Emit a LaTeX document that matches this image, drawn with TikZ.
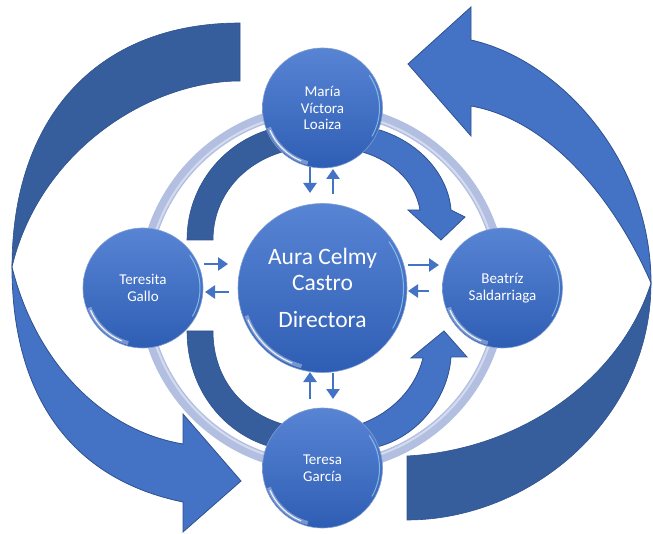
\documentclass[tikz,border=0pt]{standalone}
\usepackage{fontspec}
\setmainfont{Carlito}
\usetikzlibrary{arrows.meta}
\definecolor{dkblue}{RGB}{54,93,156}
\definecolor{mdblue}{RGB}{68,114,196}
\definecolor{olblue}{RGB}{47,82,143}
\definecolor{ringc}{RGB}{178,191,225}
\definecolor{balltop}{RGB}{88,132,212}
\definecolor{ballmid}{RGB}{64,110,196}
\definecolor{ballbot}{RGB}{46,94,180}
\newcommand\glossy[2]{%
  \draw[white, opacity=.35, line width=4pt] ([shift={(160:#2)}]#1.center) arc[start angle=160, end angle=105, radius=#2];
  \draw[white, opacity=.85, line width=1.2pt] ([shift={(157:#2)}]#1.center) arc[start angle=157, end angle=112, radius=#2];
  \draw[white!70!cyan, opacity=.6, line width=1pt] ([shift={(30:#2)}]#1.center) arc[start angle=30, end angle=-35, radius=#2];
}
\begin{document}
\begin{tikzpicture}[x=1pt,y=-1pt,
  ball/.style={circle, inner sep=0pt, minimum size=#1, top color=balltop, middle color=ballmid, bottom color=ballbot, text=white, align=center, draw=ballbot!60!white, line width=0.6pt},
  smallball/.style={ball=120, font=\fontsize{15}{16.8}\selectfont},
  bigball/.style={ball=169, font=\fontsize{23.5}{26}\selectfont},
  dkshape/.style={fill=dkblue, draw=olblue, line width=0.6pt},
  mdshape/.style={fill=mdblue, draw=olblue, line width=0.8pt},
  link/.style={draw=mdblue, line width=2.4pt, -{Triangle[length=10pt,width=13pt]}},
]
\useasboundingbox (0,0) rectangle (653,534);
\coordinate (C) at (322.5,288);
% big outer arrows
\path[dkshape] (240,23) .. controls (95,23) and (12,120) .. (12,267) .. controls (40,150) and (150,81) .. (240,81) -- cycle;
\path[mdshape] (12,267) .. controls (12,400) and (75,480) .. (183,502) -- (183,532) -- (241,481) -- (183,414) -- (183,444) .. controls (100,430) and (35,360) .. (12,267) -- cycle;
\path[mdshape] (471,40) .. controls (560,60) and (651,160) .. (651,283) .. controls (615,200) and (550,120) .. (471,106) -- (471,136) -- (408,64) -- (471,7) -- cycle;
\path[dkshape] (407,520) .. controls (530,520) and (651,420) .. (651,283) .. controls (620,380) and (520,450) .. (407,456) -- cycle;
% ring
\draw[ringc, line width=11pt] (C) circle (179);
\draw[white, opacity=.45, line width=2pt] (C) circle (176);
% inner arcs
\path[dkshape] (187,240) .. controls (187,185) and (225,140) .. (275,128) -- (290,150) .. controls (245,160) and (213,195) .. (213,240) -- cycle;
\path[dkshape] (187,331) .. controls (187,390) and (225,436) .. (275,448) -- (290,426) .. controls (245,416) and (213,381) .. (213,331) -- cycle;
\path[mdshape] (372,128) .. controls (415,138) and (448,172) .. (451,210) -- (465,217) -- (441,240) -- (408,210) -- (420,210) .. controls (415,180) and (390,158) .. (355,150) -- cycle;
\path[mdshape] (372,448) .. controls (415,440) and (448,400) .. (451,357) -- (467,357) -- (444,331) -- (411,358) -- (423,358) .. controls (415,390) and (390,415) .. (355,426) -- cycle;
% balls
\node[bigball] (dir) at (C) {Aura Celmy\\Castro\\[11pt]Directora};
\node[smallball] (top) at (322.5,108) {María\\Víctora\\Loaiza};
\node[smallball] (left) at (143,288) {Teresita\\Gallo};
\node[smallball] (right) at (502.5,288) {Beatríz\\Saldarriaga};
\node[smallball] (bot) at (322.5,468) {Teresa\\García};
\glossy{dir}{81}
\glossy{top}{57}
\glossy{left}{57}
\glossy{right}{57}
\glossy{bot}{57}
% small arrows
\coordinate (t1a) at (310,167); \coordinate (t1b) at (310,193);
\coordinate (t2a) at (333,194); \coordinate (t2b) at (333,169);
\coordinate (b1a) at (310,399); \coordinate (b1b) at (310,372);
\coordinate (b2a) at (333,373); \coordinate (b2b) at (333,399);
\coordinate (l1a) at (204,264); \coordinate (l1b) at (228,264);
\coordinate (l2a) at (229,292); \coordinate (l2b) at (205,292);
\coordinate (r1a) at (408,265); \coordinate (r1b) at (439,265);
\coordinate (r2a) at (429,291); \coordinate (r2b) at (408,291);
\foreach \p in {t1,t2,b1,b2,l1,l2,r1,r2} \draw[link] (\p a) -- (\p b);
\end{tikzpicture}
\end{document}
